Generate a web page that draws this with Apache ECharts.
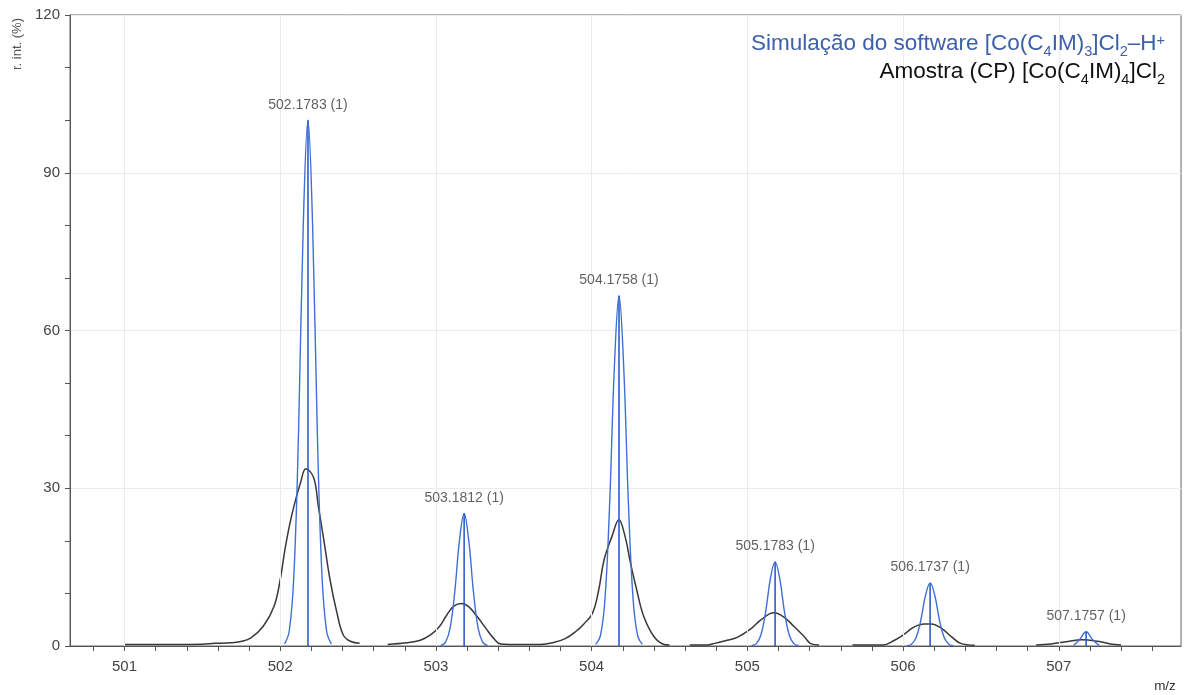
<!DOCTYPE html>
<html>
<head>
<meta charset="utf-8">
<script src="https://cdn.jsdelivr.net/npm/echarts@6/dist/echarts.min.js"></script>
<style>
html,body{margin:0;padding:0;background:#fff;}
#chart{width:1192px;height:695px;}
</style>
</head>
<body>
<div id="chart"></div>
<script>
// ---- Data ----
const xTickLabels = [501, 502, 503, 504, 505, 506, 507];
const xMinorTicks = [500.8, 501, 501.2, 501.4, 501.6, 501.8, 502, 502.2, 502.4, 502.6, 502.8, 503, 503.2, 503.4, 503.6, 503.8, 504, 504.2, 504.4, 504.6, 504.8, 505, 505.2, 505.4, 505.6, 505.8, 506, 506.2, 506.4, 506.6, 506.8, 507, 507.2, 507.4, 507.6];
const yTickLabels = [0, 30, 60, 90, 120];

// Simulated isotope pattern: centroid sticks and labels
const peakMz = [502.1783, 503.1812, 504.1758, 505.1783, 506.1737, 507.1757];
const peakInt = [100, 25.2, 66.6, 16.0, 12.0, 2.7];
const peakLabels = ['502.1783 (1)', '503.1812 (1)', '504.1758 (1)', '505.1783 (1)', '506.1737 (1)', '507.1757 (1)'];

// Simulated profile (blue), null = gap
const simMz = [
  502.028, 502.058, 502.088, 502.118, 502.148, 502.178, 502.208, 502.238, 502.268, 502.298, 502.328, null,
  503.031, 503.061, 503.091, 503.121, 503.151, 503.181, 503.211, 503.241, 503.271, 503.301, 503.331, null,
  504.026, 504.056, 504.086, 504.116, 504.146, 504.176, 504.206, 504.236, 504.266, 504.296, 504.326, null,
  505.028, 505.058, 505.088, 505.118, 505.148, 505.178, 505.208, 505.238, 505.268, 505.298, 505.328, null,
  506.024, 506.054, 506.084, 506.114, 506.144, 506.174, 506.204, 506.234, 506.264, 506.294, 506.324, null,
  507.095, 507.135, 507.176, 507.215, 507.26
];
const simInt = [
  0.4, 2.8, 13.5, 41, 80, 100, 80, 41, 13.5, 2.8, 0.4, null,
  0.1, 0.7, 3.4, 10.3, 20, 25.2, 20, 10.3, 3.4, 0.7, 0.1, null,
  0.3, 1.9, 9, 27.3, 53, 66.6, 53, 27.3, 9, 1.9, 0.3, null,
  0.1, 0.45, 2.2, 6.6, 12.8, 16, 12.8, 6.6, 2.2, 0.45, 0.1, null,
  0.05, 0.34, 1.6, 4.9, 9.6, 12, 9.6, 4.9, 1.6, 0.34, 0.05, null,
  0.1, 1.3, 2.7, 1.3, 0.1
];

// Measured sample profile (black), null = gap
const sampleMz = [
  501.00, 501.30, 501.50, 501.58, 501.68, 501.74, 501.81, 501.89, 501.96, 502.00, 502.03, 502.06, 502.09, 502.13, 502.165, 502.215, 502.245, 502.28, 502.32, 502.365, 502.405, 502.45, 502.51, null,
  502.69, 502.81, 502.90, 502.965, 503.02, 503.07, 503.115, 503.165, 503.21, 503.265, 503.32, 503.37, 503.415, 503.55, 503.67, 503.76, 503.83, 503.90, 503.95, 504.005, 504.045, 504.08, 504.13, 504.175, 504.215, 504.25, 504.29, 504.335, 504.40, 504.465, 504.50, null,
  504.63, 504.74, 504.79, 504.87, 504.935, 505.02, 505.085, 505.17, 505.235, 505.30, 505.365, 505.41, 505.46, null,
  505.675, 505.87, 505.945, 506.01, 506.07, 506.135, 506.18, 506.245, 506.31, 506.37, 506.46, null,
  506.855, 506.95, 507.05, 507.15, 507.25, 507.33, 507.40
];
const sampleInt = [
  0.3, 0.3, 0.35, 0.5, 0.6, 0.8, 1.5, 3.7, 7.5, 12.6, 18.3, 23.0, 26.8, 31.0, 33.7, 32.0, 26.5, 20.2, 12.6, 6.2, 2.1, 0.9, 0.5, null,
  0.3, 0.6, 1.1, 2.1, 3.6, 5.9, 7.6, 8.1, 7.5, 5.6, 3.4, 1.5, 0.4, 0.3, 0.3, 0.7, 1.4, 2.8, 4.2, 6.2, 10.6, 16.4, 20.8, 24.0, 20.8, 15.7, 10.6, 5.6, 1.8, 0.3, 0.2, null,
  0.2, 0.2, 0.5, 1.1, 1.65, 3.2, 4.9, 6.3, 5.5, 3.7, 1.8, 0.4, 0.2, null,
  0.2, 0.2, 1.1, 2.3, 3.6, 4.2, 4.2, 3.4, 1.8, 0.5, 0.15, null,
  0.2, 0.4, 0.8, 1.2, 0.9, 0.4, 0.2
];

// ---- Build ----
function pairs(xs, ys) {
  return xs.map((x, i) => (x === null ? null : [x, ys[i]]));
}
const FONT = 'Arial, "Liberation Sans", sans-serif';
const BLUE = '#3f6fd6';
const STICK = '#2e5ccc';
const BLACK = '#383838';
const AXIS = '#555';
const LEG_BLUE = '#3e60a8';

const chart = echarts.init(document.getElementById('chart'), null, { renderer: 'canvas' });
chart.setOption({
  animation: false,
  backgroundColor: '#fff',
  grid: { left: 70, top: 15, right: 11, bottom: 49, show: true, borderColor: '#666', borderWidth: 1, backgroundColor: 'transparent' },
  xAxis: {
    type: 'value', min: 500.65, max: 507.785,
    axisLine: { show: true, onZero: false, lineStyle: { color: AXIS, width: 1 } },
    axisTick: { show: true, customValues: xMinorTicks, length: 5, lineStyle: { color: AXIS } },
    axisLabel: { customValues: xTickLabels, color: '#444', fontSize: 15, fontFamily: FONT, margin: 13 },
    splitLine: { show: false }
  },
  yAxis: {
    type: 'value', min: 0, max: 120, interval: 30,
    axisLine: { show: true, lineStyle: { color: AXIS, width: 1 } },
    axisTick: { show: true, length: 5, lineStyle: { color: AXIS } },
    minorTick: { show: true, splitNumber: 3, length: 5, lineStyle: { color: AXIS } },
    axisLabel: { customValues: yTickLabels, color: '#444', fontSize: 15, fontFamily: FONT, margin: 10 },
    splitLine: { show: true, lineStyle: { color: '#ebebeb', width: 1 } }
  },
  series: [
    {
      type: 'line', data: [], silent: true, z: 0,
      markLine: {
        silent: true, symbol: 'none', animation: false,
        label: { show: false },
        lineStyle: { color: '#ebebeb', width: 1, type: 'solid' },
        data: xTickLabels.map(v => ({ xAxis: v }))
      }
    },
    {
      name: 'sample', type: 'line', data: pairs(sampleMz, sampleInt),
      showSymbol: false, connectNulls: false, smooth: 0.4,
      lineStyle: { color: BLACK, width: 1.5 }, z: 3
    },
    {
      name: 'sim', type: 'line', data: pairs(simMz, simInt),
      showSymbol: false, connectNulls: false, smooth: 0.4,
      lineStyle: { color: BLUE, width: 1.4 }, z: 4
    },
    {
      name: 'sticks', type: 'bar', data: pairs(peakMz, peakInt),
      barWidth: 1.6, itemStyle: { color: STICK }, z: 5
    },
    {
      name: 'labels', type: 'scatter', data: pairs(peakMz, peakInt),
      symbolSize: 1, itemStyle: { color: 'rgba(0,0,0,0)' }, z: 6, silent: true,
      label: {
        show: true, position: 'top', distance: 8,
        color: '#3a3a3a', fontSize: 14, fontFamily: FONT,
        formatter: p => peakLabels[p.dataIndex]
      }
    }
  ],
  graphic: [
    {
      type: 'text', x: 1165, y: 44, z: 10,
      style: {
        align: 'right', verticalAlign: 'middle',
        text: '{a|Simulação do software [Co(C}{s|4}{a|IM)}{s|3}{a|]Cl}{s|2}{a|–H}{p|+}',
        rich: {
          a: { fontSize: 22.5, fontFamily: FONT, fill: LEG_BLUE, lineHeight: 30, verticalAlign: 'middle' },
          s: { fontSize: 14.5, fontFamily: FONT, fill: LEG_BLUE, lineHeight: 30, verticalAlign: 'bottom' },
          p: { fontSize: 14.5, fontFamily: FONT, fill: LEG_BLUE, lineHeight: 30, verticalAlign: 'top', padding: [4, 0, 0, 0] }
        }
      }
    },
    {
      type: 'text', x: 1165, y: 72, z: 10,
      style: {
        align: 'right', verticalAlign: 'middle',
        text: '{a|Amostra (CP) [Co(C}{s|4}{a|IM)}{s|4}{a|]Cl}{s|2}',
        rich: {
          a: { fontSize: 22.5, fontFamily: FONT, fill: '#111', lineHeight: 30, verticalAlign: 'middle' },
          s: { fontSize: 14.5, fontFamily: FONT, fill: '#111', lineHeight: 30, verticalAlign: 'bottom' }
        }
      }
    },
    {
      type: 'text', x: 17, y: 44, rotation: Math.PI / 2, z: 10,
      style: { text: 'r. int. (%)', align: 'center', verticalAlign: 'middle', fontSize: 13, fontFamily: FONT, fill: '#555' }
    },
    {
      type: 'text', x: 1165, y: 686, z: 10,
      style: { text: 'm/z', align: 'center', verticalAlign: 'middle', fontSize: 13.5, fontFamily: FONT, fill: '#333' }
    }
  ]
});
</script>
</body>
</html>
